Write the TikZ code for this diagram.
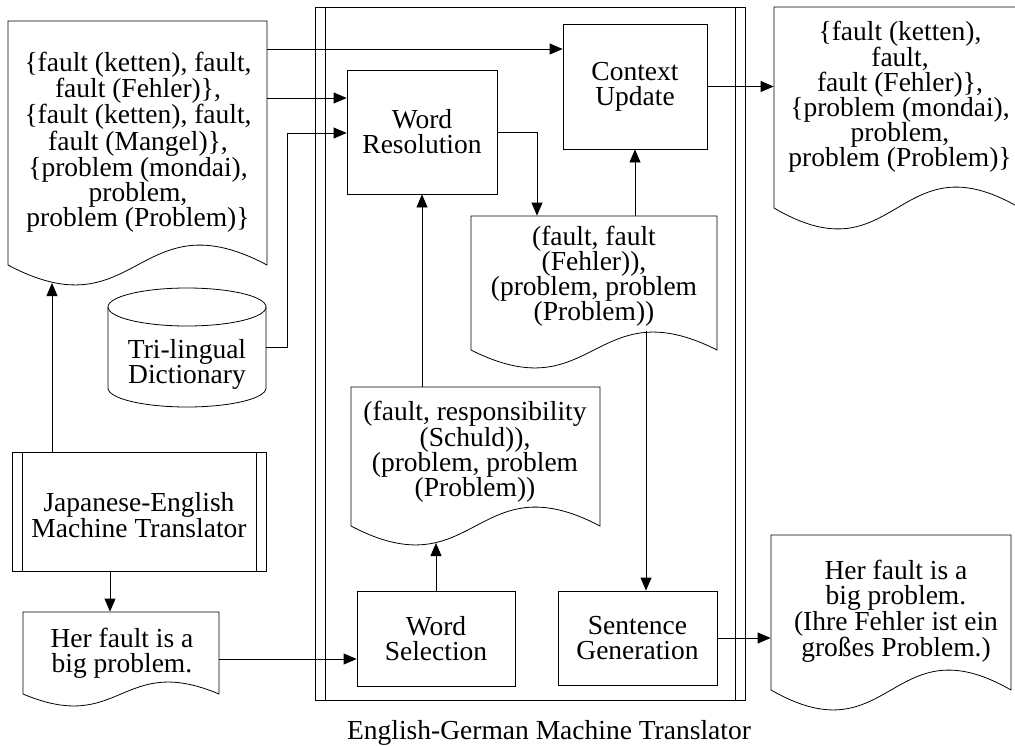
\documentclass[tikz,border=0pt]{standalone}
\usepackage{fontspec}
\setmainfont{Liberation Serif}
\usetikzlibrary{arrows.meta}

% document shape: name, left x, top y, right x, side-bottom y, wave amplitude
\newcommand\docshape[6]{%
  \draw (#4,#3) -- (#2,#3) -- (#2,#5)
    .. controls ({(#2+#4)/2},{#5+3.45*#6}) and ({(#2+#4)/2},{#5-3.45*#6}) .. (#4,#5) -- cycle;
  \node[minimum width={(#4-#2)*1pt}, minimum height={(#5-#3)*1pt}] (#1)
    at ({(#2+#4)/2},{(#3+#5)/2}) {};
}

\begin{document}
\begin{tikzpicture}[x=1pt,y=-1pt,line width=0.8pt,
  every node/.style={font=\fontsize{27.5}{25}\selectfont, align=center, inner sep=0pt},
  arr/.style={-{Triangle[length=13pt,width=11pt]}},
  procbox/.style={draw, rectangle, minimum width=#1},
]
\clip (0,0) rectangle (1015,747);

% English-German machine translator frame
\node[draw, minimum width=430pt, minimum height=693pt] (EG) at (530,353.5) {};
\draw ([xshift=11]EG.north west) -- ([xshift=11]EG.south west);
\draw ([xshift=-10]EG.north east) -- ([xshift=-10]EG.south east);
\node (EGlabel) at (549,733) {English-German Machine Translator};

% Japanese-English machine translator
\node[procbox=254pt, minimum height=119pt] (JE) at (139,511.5) {};
\draw ([xshift=10.5]JE.north west) -- ([xshift=10.5]JE.south west);
\draw ([xshift=-10.5]JE.north east) -- ([xshift=-10.5]JE.south east);
\node (JEt) at (139,515) {Japanese-English\\Machine Translator};

% process boxes
\node[procbox=150pt, minimum height=124pt] (WR) at (422,132) {Word\\Resolution};
\node[procbox=144pt, minimum height=125pt] (CU) at (635,86.5) {Context\\Update};
\node[procbox=158pt, minimum height=95pt] (WS) at (436,638.5) {Word\\Selection};
\node[procbox=159pt, minimum height=94pt] (SG) at (637.5,638) {Sentence\\Generation};

% documents
\docshape{D1}{8}{21}{267}{265}{20}
\node (D1t) at (138,142) {\{fault (ketten), fault,\\fault (Fehler)\},\\\{fault (ketten), fault,\\fault (Mangel)\},\\\{problem (mondai),\\problem,\\problem (Problem)\}};

\docshape{R1}{774}{7}{1020}{208}{21}
\node (R1t) at (900,97) {\{fault (ketten),\\fault,\\fault (Fehler)\},\\\{problem (mondai),\\problem,\\problem (Problem)\}};

\docshape{D2}{471}{216}{717}{350}{18}
\node (D2t) at (594,276) {(fault, fault\\(Fehler)),\\(problem, problem\\(Problem))};

\docshape{D3}{351}{387}{600}{526}{19}
\node (D3t) at (475,452) {(fault, responsibility\\(Schuld)),\\(problem, problem\\(Problem))};

\docshape{D4}{23}{612}{219}{694}{12}
\node (D4t) at (122,653) {Her fault is a\\big problem.};

\docshape{R2}{771}{535}{1011}{690}{20}
\node (R2t) at (896,611) {Her fault is a\\big problem.\\(Ihre Fehler ist ein\\großes Problem.)};

% tri-lingual dictionary (cylinder)
\draw (187,307) ellipse [x radius=79, y radius=19];
\draw (108,307) -- (108,388)
  .. controls (108,398.5) and (143.4,407) .. (187,407)
  .. controls (230.6,407) and (266,398.5) .. (266,388) -- (266,307);
\node[minimum width=158pt, minimum height=81pt] (Dict) at (187,347.5) {};
\node (Dictt) at (187,364) {Tri-lingual\\Dictionary};

% connector levels
\coordinate (ra) at (0,49);
\coordinate (rb) at (0,98);
\coordinate (rc) at (0,133);
\coordinate (rl) at (0,659);
\coordinate (d1w) at (52,283);
\coordinate (d2w) at (646,331);
\coordinate (d3w) at (436,543);
\coordinate (jx) at (110,0);

% connectors
\draw[arr] (D1.east |- ra) -- (CU.west |- ra);
\draw[arr] (D1.east |- rb) -- (WR.west |- rb);
\draw[arr] (Dict.east) -- ++(21,0) |- (WR.west |- rc);
\draw[arr] (CU.east) -- (R1.west |- CU.east);
\draw[arr] (WR.east) -| ([xshift=-57]D2.north);
\draw[arr] (CU.south |- D2.north) -- (CU.south);
\draw[arr] (d2w) -- (SG.north -| d2w);
\draw[arr] (WR.south |- D3.north) -- (WR.south);
\draw[arr] (WS.north) -- (d3w);
\draw[arr] (JE.north -| d1w) -- (d1w);
\draw[arr] (JE.south -| jx) -- (D4.north -| jx);
\draw[arr] (D4.east |- rl) -- (WS.west |- rl);
\draw[arr] (SG.east) -- (R2.west |- SG.east);
\end{tikzpicture}
\end{document}
